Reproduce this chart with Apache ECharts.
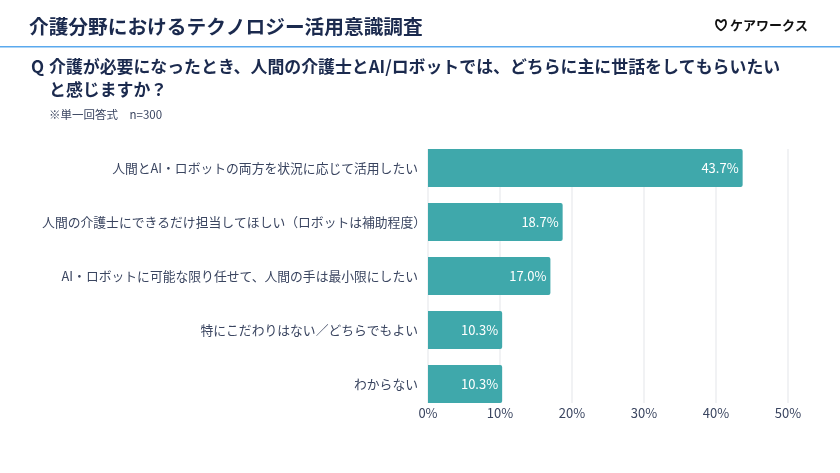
<!DOCTYPE html>
<html><head><meta charset="utf-8">
<style>html,body{margin:0;padding:0;background:#fff}#c{width:840px;height:473px}</style>
<script src="https://cdn.jsdelivr.net/npm/echarts@6/dist/echarts.min.js"></script></head>
<body><div id="c"></div>
<script>
const FONT = '"Noto Sans CJK JP","Noto Sans",sans-serif';
const categories = ['人間とAI・ロボットの両方を状況に応じて活用したい','人間の介護士にできるだけ担当してほしい（ロボットは補助程度）','AI・ロボットに可能な限り任せて、人間の手は最小限にしたい','特にこだわりはない／どちらでもよい','わからない'];
const values = [43.7,18.7,17.0,10.3,10.3];
const xTicks = {min:0,max:50,interval:10};
const chart = echarts.init(document.getElementById('c'),null,{renderer:'canvas'});
const txt=(x,y,t,size,weight,color)=>({type:'text',x,y,style:{text:t,font:`${weight} ${size}px ${FONT}`,fill:color,textVerticalAlign:'middle'}});
const heart=(cx1,cx2)=>({type:'bezierCurve',shape:{x1:721,y1:22.5,x2:721,y2:30.5,cpx1:cx1,cpy1:15.5,cpx2:cx2,cpy2:25},style:{fill:'none',stroke:'#111',lineWidth:1.8}});
const catData = categories.map(c => c.endsWith('）') ? {value:c,textStyle:{padding:[0,-8,0,0]}} : c);
chart.setOption({
  animation:false,
  backgroundColor:'#fff',
  textStyle:{fontFamily:FONT},
  grid:[{left:428,right:52,top:141,bottom:62},{left:428,right:52,top:149,bottom:70}],
  xAxis:[
    {gridIndex:0,type:'value',min:xTicks.min,max:xTicks.max,interval:xTicks.interval,show:false},
    {gridIndex:1,type:'value',min:xTicks.min,max:xTicks.max,interval:xTicks.interval,
     axisLine:{show:false},axisTick:{show:false},
     axisLabel:{formatter:'{value}%',color:'#3a4560',fontSize:13,margin:4,fontFamily:FONT},
     splitLine:{show:true,lineStyle:{color:'#eceef0',width:1.5}}}
  ],
  yAxis:[
    {gridIndex:0,type:'category',inverse:true,data:catData,
     axisLine:{show:false},axisTick:{show:false},
     axisLabel:{color:'#3a4560',fontSize:12.8,margin:10,fontFamily:FONT}},
    {gridIndex:1,type:'category',data:[],show:false}
  ],
  series:[{type:'bar',xAxisIndex:0,yAxisIndex:0,data:values,barWidth:38,
    itemStyle:{color:'#3fa8ab',borderRadius:[0,2,2,0]},
    label:{show:true,position:'insideRight',distance:4,color:'#fff',fontSize:13,fontFamily:FONT,
      formatter:p=>p.value.toFixed(1)+'%'}}],
  graphic:[
    txt(29,27,'介護分野におけるテクノロジー活用意識調査',19.7,700,'#1b2a4e'),
    {type:'rect',shape:{x:0,y:46,width:840,height:1.5},style:{fill:'#5aa9ee'}},
    txt(31,67,'Q',17,700,'#1b2a4e'),
    txt(49,67,'介護が必要になったとき、人間の介護士とAI/ロボットでは、どちらに主に世話をしてもらいたい',16.9,700,'#1b2a4e'),
    txt(49,90,'と感じますか？',16.9,700,'#1b2a4e'),
    txt(49,115,'※単一回答式　n=300',11.5,400,'#3a4560'),
    heart(716.5,712.5),heart(725.5,729.5),
    txt(730,25,'ケアワークス',13,700,'#111')
  ]
});
</script></body></html>
